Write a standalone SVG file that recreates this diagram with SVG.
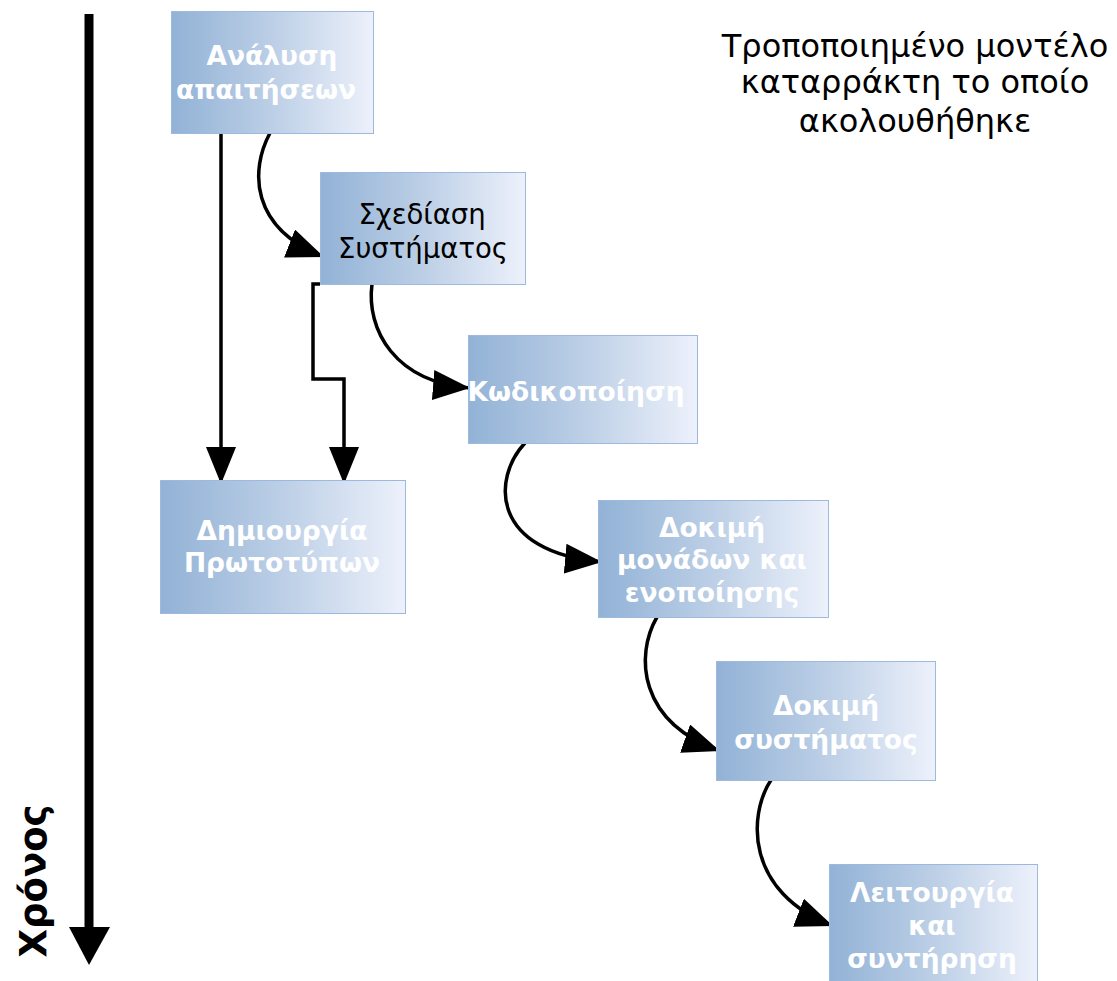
<svg xmlns="http://www.w3.org/2000/svg" width="1117" height="981" viewBox="0 0 1117 981">
<style>
.box{stroke:#9DB9E0;stroke-width:1;fill:url(#g)}
.w{font-family:"DejaVu Sans",Verdana,sans-serif;font-size:26.5px;font-weight:bold;fill:#fff;text-anchor:middle}
.b{font-family:"DejaVu Sans",Verdana,sans-serif;font-size:27.5px;fill:#000;text-anchor:middle}
.c{fill:none;stroke:#000;stroke-width:3.5}
.t{font-family:"DejaVu Sans",Verdana,sans-serif;font-size:32px;fill:#000;text-anchor:middle}
</style>
<defs>
<linearGradient id="g" x1="0" y1="0" x2="1" y2="0">
<stop offset="0" stop-color="#92B2D6"/>
<stop offset="0.5" stop-color="#BCCFE6"/>
<stop offset="1" stop-color="#EDF1FB"/>
</linearGradient>
<marker id="a" markerUnits="userSpaceOnUse" markerWidth="40" markerHeight="32" refX="37" refY="15" orient="auto" viewBox="0 0 40 32">
<path d="M0,0 L37,15 L0,30 Z" fill="#000"/>
</marker>
</defs>
<rect width="1117" height="981" fill="#fff"/>
<g id="time">
<line x1="89" y1="14" x2="89" y2="930" stroke="#000" stroke-width="9"/>
<path d="M69,927 L110,927 L89,965 Z" fill="#000"/>
<text transform="translate(46,881) rotate(-90)" font-family="DejaVu Sans,Verdana,sans-serif" font-size="37" font-weight="bold" text-anchor="middle">Χρόνος</text>
</g>
<g id="title">
<text class="t" x="915" y="57">Τροποποιημένο μοντέλο</text>
<text class="t" x="915" y="93">καταρράκτη το οποίο</text>
<text class="t" x="915" y="132">ακολουθήθηκε</text>
</g>
<g id="connectors">
<path class="c" d="M221,133 L221,484" marker-end="url(#a)"/>
<path class="c" d="M320,284 L313,284 L313,379 L344,379 L344,484" marker-end="url(#a)"/>
<path class="c" d="M270,133 C250,170 250,228 324,257" marker-end="url(#a)"/>
<path class="c" d="M372,284 C366,330 395,382 470,388" marker-end="url(#a)"/>
<path class="c" d="M525,443 C492,478 490,552 602,562" marker-end="url(#a)"/>
<path class="c" d="M657,617 C635,655 638,722 720,751" marker-end="url(#a)"/>
<path class="c" d="M771,780 C748,815 745,892 833,926" marker-end="url(#a)"/>
</g>
<g id="n1">
<rect class="box" x="171.5" y="11.5" width="202" height="122"/>
<text class="w" x="272" y="65">Ανάλυση</text>
<text class="w" x="266" y="99">απαιτήσεων</text>
</g>
<g id="n2">
<rect class="box" x="320.5" y="172.5" width="205" height="112"/>
<text class="b" x="422" y="224">Σχεδίαση</text>
<text class="b" x="423" y="258">Συστήματος</text>
</g>
<g id="n3">
<rect class="box" x="468.5" y="335.5" width="229" height="108"/>
<text class="w" x="576" y="401">Κωδικοποίηση</text>
</g>
<g id="n4">
<rect class="box" x="160.5" y="480.5" width="245" height="133"/>
<text class="w" x="282" y="540">Δημιουργία</text>
<text class="w" x="282" y="572">Πρωτοτύπων</text>
</g>
<g id="n5">
<rect class="box" x="598.5" y="500.5" width="230" height="117"/>
<text class="w" x="712" y="537">Δοκιμή</text>
<text class="w" x="712" y="569">μονάδων και</text>
<text class="w" x="712" y="602">ενοποίησης</text>
</g>
<g id="n6">
<rect class="box" x="716.5" y="661.5" width="219" height="119"/>
<text class="w" x="826" y="715">Δοκιμή</text>
<text class="w" x="826" y="749">συστήματος</text>
</g>
<g id="n7">
<rect class="box" x="829.5" y="864.5" width="208" height="118"/>
<text class="w" x="932" y="902">Λειτουργία</text>
<text class="w" x="932" y="935">και</text>
<text class="w" x="932" y="968">συντήρηση</text>
</g>
</svg>
